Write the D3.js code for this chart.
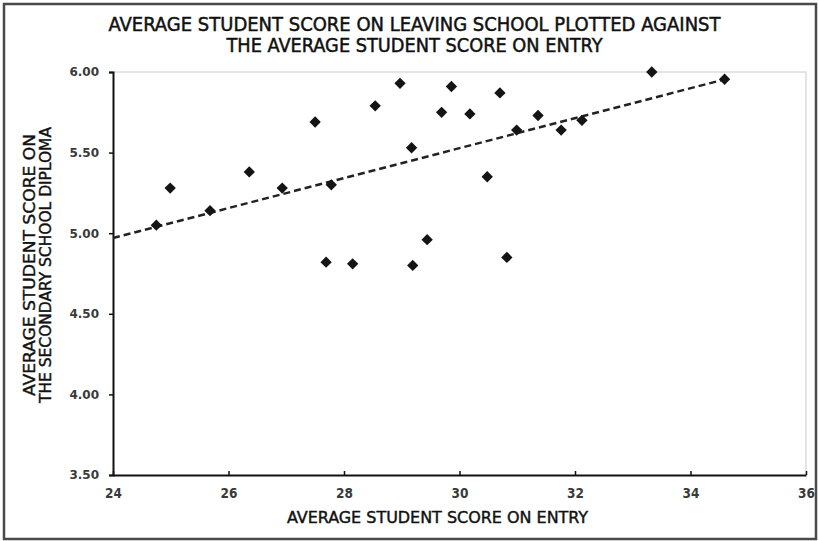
<!DOCTYPE html>
<html>
<head>
<meta charset="utf-8">
<script src="https://cdn.jsdelivr.net/npm/d3@7"></script>
<style>
  html, body { margin: 0; padding: 0; background: #fff; }
  svg { display: block; }
</style>
</head>
<body>
<svg id="chart" width="819" height="541"></svg>
<script>
// ---- data ----
const entryScores = [24.75, 24.99, 25.68, 26.36, 26.93, 27.50, 27.78, 27.69, 28.15, 28.54,
                     28.97, 29.17, 29.19, 29.44, 29.69, 29.86, 30.18, 30.48, 30.70, 30.82,
                     30.99, 31.36, 31.76, 32.12, 33.33, 34.59];
const diplomaScores = [5.05, 5.28, 5.14, 5.38, 5.28, 5.69, 5.30, 4.82, 4.81, 5.79,
                       5.93, 5.53, 4.80, 4.96, 5.75, 5.91, 5.74, 5.35, 5.87, 4.85,
                       5.64, 5.73, 5.64, 5.70, 6.00, 5.955];
const trendX = [24, 34.6];
const trendY = [4.97, 5.955];
const xTicks = [24, 26, 28, 30, 32, 34, 36];
const yTicks = [3.5, 4.0, 4.5, 5.0, 5.5, 6.0];
const titleLines = ["AVERAGE STUDENT SCORE ON LEAVING SCHOOL PLOTTED AGAINST",
                    "THE AVERAGE STUDENT SCORE ON ENTRY"];
const xTitle = "AVERAGE STUDENT SCORE ON ENTRY";
const yTitleLines = ["AVERAGE STUDENT SCORE ON", "THE SECONDARY SCHOOL DIPLOMA"];

// ---- drawing ----
const svg = d3.select("#chart");
const x = d3.scaleLinear().domain([24, 36]).range([113, 806]);
const y = d3.scaleLinear().domain([3.5, 6]).range([475, 72]);

// outer frame
svg.append("rect").attr("x", 4).attr("y", 4).attr("width", 812).attr("height", 535)
  .attr("fill", "#fff").attr("stroke", "#4a4a4a").attr("stroke-width", 2.5);

// plot-area border (light)
svg.append("path")
  .attr("d", `M${x(24)},${y(6)}H${x(36)}V${y(3.5)}`)
  .attr("fill", "none").attr("stroke", "#dcdcdc").attr("stroke-width", 1.5);

// title
const condensed = "'DejaVu Sans Condensed', 'DejaVu Sans', sans-serif";
const titleLens = [612, 376];
const titleBase = [30.5, 51.5];
titleLines.forEach((t, i) => {
  svg.append("text").attr("x", 414.5).attr("y", titleBase[i])
    .attr("text-anchor", "middle")
    .attr("font-family", condensed).attr("font-size", 19)
    .attr("fill", "#111").attr("stroke", "#111").attr("stroke-width", 0.45)
    .attr("textLength", titleLens[i]).attr("lengthAdjust", "spacingAndGlyphs")
    .text(t);
});

// axes
const yAxis = d3.axisLeft(y).tickValues(yTicks).tickFormat(d3.format(".2f"))
  .tickSize(4).tickPadding(10);
const gy = svg.append("g").attr("transform", `translate(${x(24)},0)`).call(yAxis);
gy.select(".domain").attr("stroke", "#111").attr("stroke-width", 2);
gy.selectAll(".tick line").attr("stroke", "#111").attr("stroke-width", 1.5);
gy.selectAll(".tick text").attr("font-family", "'DejaVu Sans', Verdana, sans-serif")
  .attr("font-weight", "bold").attr("font-size", 12).attr("fill", "#3a3a3a");

const xAxis = d3.axisBottom(x).tickValues(xTicks).tickFormat(d3.format("d"))
  .tickSizeInner(-4).tickSizeOuter(0).tickPadding(13);
const gx = svg.append("g").attr("transform", `translate(0,${y(3.5)})`).call(xAxis);
gx.select(".domain").attr("stroke", "#111").attr("stroke-width", 2);
gx.selectAll(".tick line").attr("stroke", "#111").attr("stroke-width", 1.5);
gx.selectAll(".tick text").attr("font-family", condensed)
  .attr("font-weight", "bold").attr("font-size", 13.5).attr("fill", "#3a3a3a");

// axis titles
svg.append("text").attr("x", 437.5).attr("y", 523)
  .attr("text-anchor", "middle")
  .attr("font-family", condensed).attr("font-size", 16).attr("fill", "#111")
  .attr("stroke", "#111").attr("stroke-width", 0.4)
  .attr("textLength", 301).attr("lengthAdjust", "spacingAndGlyphs")
  .text(xTitle);

const yTitleX = [34.5, 50.5];
const yTitleLens = [262, 276];
yTitleLines.forEach((t, i) => {
  svg.append("text")
    .attr("transform", `translate(${yTitleX[i]},265) rotate(-90)`)
    .attr("text-anchor", "middle")
    .attr("font-family", condensed).attr("font-size", 16.5).attr("fill", "#111")
    .attr("stroke", "#111").attr("stroke-width", 0.4)
    .attr("textLength", yTitleLens[i]).attr("lengthAdjust", "spacingAndGlyphs")
    .text(t);
});

// trend line
const line = d3.line().x(d => x(d[0])).y(d => y(d[1]));
svg.append("path")
  .datum(d3.zip(trendX, trendY))
  .attr("d", line)
  .attr("fill", "none").attr("stroke", "#222").attr("stroke-width", 2.5)
  .attr("stroke-dasharray", "7,4");

// points
const pts = d3.zip(entryScores, diplomaScores);
const sym = d3.symbol().type(d3.symbolSquare).size(64);
svg.append("g").selectAll("path").data(pts).join("path")
  .attr("d", sym)
  .attr("transform", d => `translate(${x(d[0])},${y(d[1])}) rotate(45)`)
  .attr("fill", "#141414");
</script>
</body>
</html>
